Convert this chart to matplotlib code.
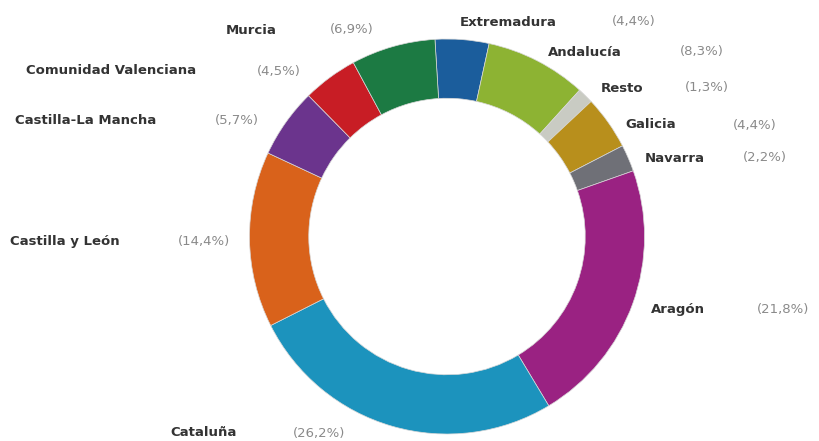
import matplotlib.pyplot as plt

# Shares by region (clockwise from the top)
regions = ['Extremadura', 'Andalucía', 'Resto', 'Galicia', 'Navarra', 'Aragón',
           'Cataluña', 'Castilla y León', 'Castilla-La Mancha',
           'Comunidad Valenciana', 'Murcia']
shares = [4.4, 8.3, 1.3, 4.4, 2.2, 21.8, 26.2, 14.4, 5.7, 4.5, 6.9]
pct_labels = ['(4,4%)', '(8,3%)', '(1,3%)', '(4,4%)', '(2,2%)', '(21,8%)',
              '(26,2%)', '(14,4%)', '(5,7%)', '(4,5%)', '(6,9%)']
colors = ['#1b5d9c', '#8db333', '#c9cbc3', '#b88f1c', '#6f7077', '#9a2282',
          '#1c93bd', '#d9621b', '#6b348d', '#c81d25', '#1c7a43']

# label positions in pixels (name x, pct x, y from top)
name_x = [460, 548, 601, 625, 645, 651, 170, 10, 15, 26, 226]
pct_x = [612, 680, 685, 733, 743, 757, 293, 178, 215, 257, 330]
text_y = [22, 52, 88, 125, 158, 310, 433, 242, 120, 71, 30]

plt.rcParams['font.family'] = ['DejaVu Sans']

W, H = 819, 441
fig = plt.figure(figsize=(W / 100, H / 100), dpi=100)
ax = fig.add_axes([249.5 / W, 7 / H, 395 / W, 395 / H])
ax.pie(shares, colors=colors, startangle=93.5, counterclock=False, radius=1,
       wedgeprops=dict(width=0.30, edgecolor='#d8d8d8', linewidth=0.5))
ax.set_aspect('auto')
ax.set_xlim(-1, 1)
ax.set_ylim(-1, 1)
ax.axis('off')

for name, pct, nx, px, y in zip(regions, pct_labels, name_x, pct_x, text_y):
    fig.text(nx / W, 1 - y / H, name, ha='left', va='center', fontsize=9.5,
             fontweight='bold', color='#333333')
    fig.text(px / W, 1 - y / H, pct, ha='left', va='center', fontsize=9.5,
             color='#8a8a8a')

plt.savefig('out.png', dpi=100)
